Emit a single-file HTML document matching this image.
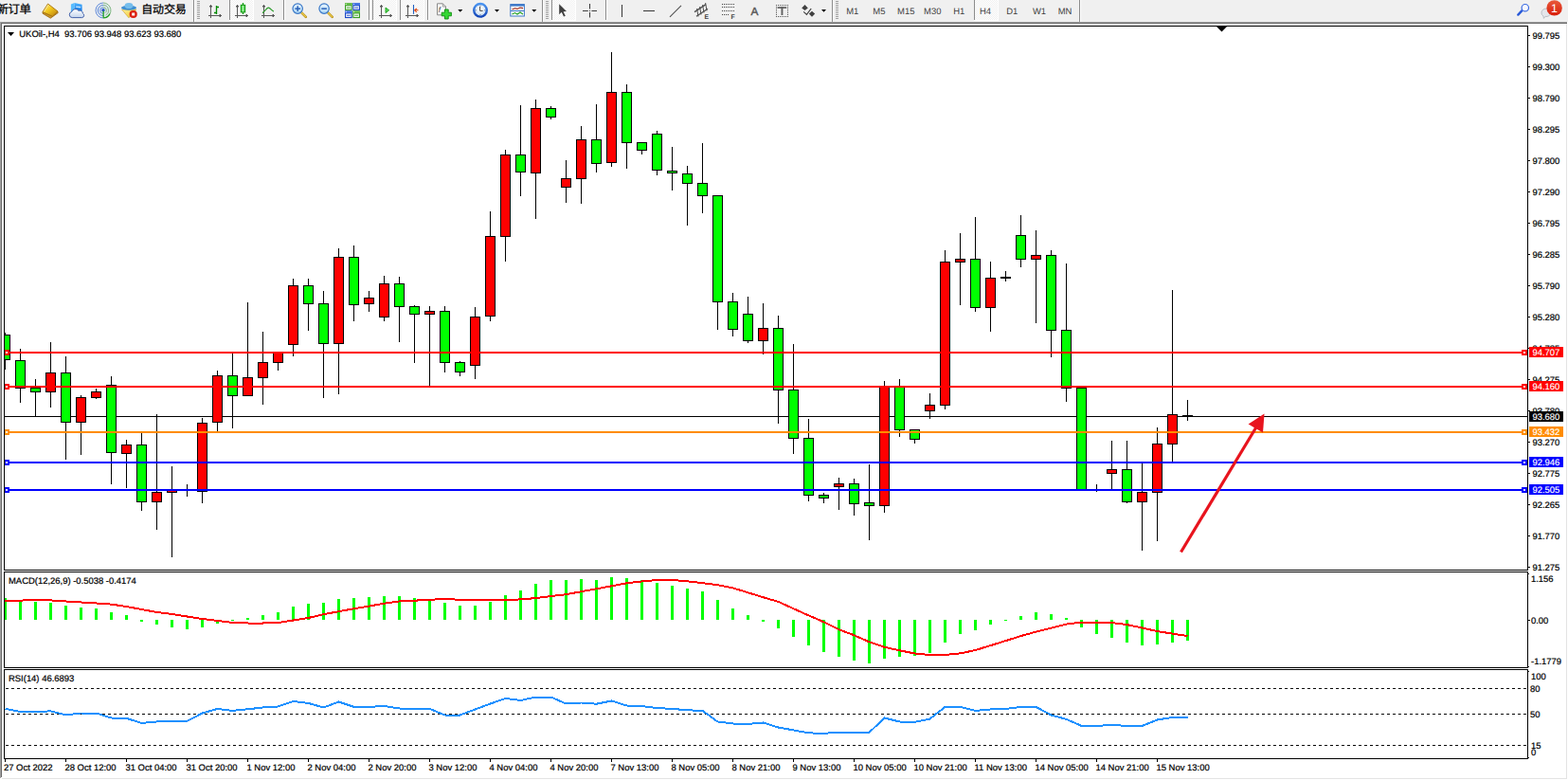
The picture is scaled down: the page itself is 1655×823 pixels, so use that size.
<!DOCTYPE html>
<html><head><meta charset="utf-8"><title>UKOil H4</title>
<style>
html,body{margin:0;padding:0;background:#fff;overflow:hidden}
body{width:1655px;height:823px;font-family:"Liberation Sans",sans-serif}
svg{display:block;position:absolute;left:0;top:0}
svg text{font-family:"Liberation Sans",sans-serif;white-space:pre}
</style></head><body>
<svg width="1655" height="823" viewBox="0 0 1655 823" shape-rendering="crispEdges" text-rendering="geometricPrecision">
<defs>
<clipPath id="cm"><rect x="5" y="28" width="1607" height="573"/></clipPath>
<clipPath id="c2"><rect x="5" y="604" width="1607" height="100"/></clipPath>
<clipPath id="c3"><rect x="5" y="707" width="1607" height="93"/></clipPath>
<linearGradient id="gold" x1="0" y1="0" x2="1" y2="1"><stop offset="0" stop-color="#fff0a0"/><stop offset=".45" stop-color="#f2c81e"/><stop offset="1" stop-color="#b87c0c"/></linearGradient>
<linearGradient id="blu" x1="0" y1="0" x2="0" y2="1"><stop offset="0" stop-color="#4fb4ff"/><stop offset="1" stop-color="#0a6ee0"/></linearGradient>
<linearGradient id="lens" x1="0" y1="0" x2="0" y2="1"><stop offset="0" stop-color="#eaf6ff"/><stop offset="1" stop-color="#a8d4f4"/></linearGradient>
<linearGradient id="grn" x1="0" y1="0" x2="1" y2="0"><stop offset="0" stop-color="#30d030"/><stop offset=".5" stop-color="#a0f0a0"/><stop offset="1" stop-color="#20c020"/></linearGradient>
<linearGradient id="redb" x1="0" y1="0" x2="0" y2="1"><stop offset="0" stop-color="#e85a3c"/><stop offset="1" stop-color="#d81e0a"/></linearGradient>
<linearGradient id="cld" x1="0" y1="0" x2="0" y2="1"><stop offset="0" stop-color="#ffffff"/><stop offset="1" stop-color="#c4d4ec"/></linearGradient>
<linearGradient id="face" x1="0" y1="0" x2="1" y2="1"><stop offset="0" stop-color="#fff2a0"/><stop offset="1" stop-color="#f0c020"/></linearGradient>
<linearGradient id="ring" x1="0" y1="0" x2="0" y2="1"><stop offset="0" stop-color="#4a94f0"/><stop offset="1" stop-color="#1446b8"/></linearGradient>
<pattern id="chk" width="2" height="2" patternUnits="userSpaceOnUse"><rect width="2" height="2" fill="#f0f0f0"/><rect width="1" height="1" fill="#fff"/><rect x="1" y="1" width="1" height="1" fill="#fff"/></pattern>
<radialGradient id="clk" cx=".5" cy=".4" r=".6"><stop offset="0" stop-color="#ffffff"/><stop offset="1" stop-color="#c8dcf0"/></radialGradient>
</defs>
<rect x="0" y="0" width="1655" height="823" fill="#fff"/>
<rect x="0" y="0" width="1655" height="23" fill="#f0f0f0"/>
<rect x="0" y="23" width="1654" height="1" fill="#a0a0a0"/>
<rect x="1" y="24" width="1653" height="1" fill="#696969"/>
<rect x="0" y="23" width="1" height="798" fill="#a0a0a0"/>
<rect x="1" y="24" width="1" height="796" fill="#696969"/>
<rect x="1653" y="25" width="1" height="797" fill="#e3e3e3"/>
<rect x="2" y="821" width="1652" height="1" fill="#e3e3e3"/>
<rect x="4" y="27" width="1609" height="1" fill="#000"/>
<rect x="4" y="601" width="1609" height="1" fill="#000"/>
<rect x="4" y="27" width="1" height="575" fill="#000"/>
<rect x="1612" y="27" width="1" height="575" fill="#000"/>
<rect x="4" y="603" width="1609" height="1" fill="#000"/>
<rect x="4" y="704" width="1609" height="1" fill="#000"/>
<rect x="4" y="603" width="1" height="102" fill="#000"/>
<rect x="1612" y="603" width="1" height="102" fill="#000"/>
<rect x="4" y="706" width="1609" height="1" fill="#000"/>
<rect x="4" y="800" width="1609" height="1" fill="#000"/>
<rect x="4" y="706" width="1" height="95" fill="#000"/>
<rect x="1612" y="706" width="1" height="95" fill="#000"/>
<g clip-path="url(#cm)">
<rect x="5" y="439" width="1607" height="1" fill="#000"/>
<rect x="5" y="351" width="1" height="39" fill="#000"/>
<rect x="0" y="353" width="11" height="27" fill="#000"/>
<rect x="1" y="354" width="9" height="25" fill="#00ff00"/>
<rect x="21" y="368" width="1" height="57" fill="#000"/>
<rect x="16" y="380" width="11" height="30" fill="#000"/>
<rect x="17" y="381" width="9" height="28" fill="#00ff00"/>
<rect x="37" y="400" width="1" height="39" fill="#000"/>
<rect x="32" y="409" width="11" height="5" fill="#000"/>
<rect x="33" y="410" width="9" height="3" fill="#00ff00"/>
<rect x="53" y="361" width="1" height="69" fill="#000"/>
<rect x="48" y="393" width="11" height="21" fill="#000"/>
<rect x="49" y="394" width="9" height="19" fill="#ff0000"/>
<rect x="69" y="376" width="1" height="109" fill="#000"/>
<rect x="64" y="393" width="11" height="53" fill="#000"/>
<rect x="65" y="394" width="9" height="51" fill="#00ff00"/>
<rect x="85" y="417" width="1" height="63" fill="#000"/>
<rect x="80" y="419" width="11" height="27" fill="#000"/>
<rect x="81" y="420" width="9" height="25" fill="#ff0000"/>
<rect x="101" y="410" width="1" height="11" fill="#000"/>
<rect x="96" y="413" width="11" height="7" fill="#000"/>
<rect x="97" y="414" width="9" height="5" fill="#ff0000"/>
<rect x="117" y="397" width="1" height="114" fill="#000"/>
<rect x="112" y="406" width="11" height="72" fill="#000"/>
<rect x="113" y="407" width="9" height="70" fill="#00ff00"/>
<rect x="133" y="464" width="1" height="51" fill="#000"/>
<rect x="128" y="469" width="11" height="10" fill="#000"/>
<rect x="129" y="470" width="9" height="8" fill="#ff0000"/>
<rect x="149" y="457" width="1" height="82" fill="#000"/>
<rect x="144" y="469" width="11" height="61" fill="#000"/>
<rect x="145" y="470" width="9" height="59" fill="#00ff00"/>
<rect x="165" y="437" width="1" height="122" fill="#000"/>
<rect x="160" y="519" width="11" height="11" fill="#000"/>
<rect x="161" y="520" width="9" height="9" fill="#ff0000"/>
<rect x="181" y="492" width="1" height="96" fill="#000"/>
<rect x="176" y="517" width="11" height="3" fill="#000"/>
<rect x="177" y="518" width="9" height="1" fill="#ff0000"/>
<rect x="197" y="511" width="1" height="13" fill="#000"/>
<rect x="192" y="516" width="11" height="2" fill="#000"/>
<rect x="213" y="441" width="1" height="90" fill="#000"/>
<rect x="208" y="446" width="11" height="73" fill="#000"/>
<rect x="209" y="447" width="9" height="71" fill="#ff0000"/>
<rect x="229" y="391" width="1" height="65" fill="#000"/>
<rect x="224" y="396" width="11" height="50" fill="#000"/>
<rect x="225" y="397" width="9" height="48" fill="#ff0000"/>
<rect x="245" y="373" width="1" height="79" fill="#000"/>
<rect x="240" y="396" width="11" height="22" fill="#000"/>
<rect x="241" y="397" width="9" height="20" fill="#00ff00"/>
<rect x="261" y="319" width="1" height="99" fill="#000"/>
<rect x="256" y="398" width="11" height="20" fill="#000"/>
<rect x="257" y="399" width="9" height="18" fill="#ff0000"/>
<rect x="277" y="350" width="1" height="77" fill="#000"/>
<rect x="272" y="382" width="11" height="17" fill="#000"/>
<rect x="273" y="383" width="9" height="15" fill="#ff0000"/>
<rect x="293" y="372" width="1" height="19" fill="#000"/>
<rect x="288" y="372" width="11" height="11" fill="#000"/>
<rect x="289" y="373" width="9" height="9" fill="#ff0000"/>
<rect x="309" y="294" width="1" height="82" fill="#000"/>
<rect x="304" y="301" width="11" height="63" fill="#000"/>
<rect x="305" y="302" width="9" height="61" fill="#ff0000"/>
<rect x="325" y="294" width="1" height="55" fill="#000"/>
<rect x="320" y="301" width="11" height="20" fill="#000"/>
<rect x="321" y="302" width="9" height="18" fill="#00ff00"/>
<rect x="341" y="307" width="1" height="113" fill="#000"/>
<rect x="336" y="320" width="11" height="43" fill="#000"/>
<rect x="337" y="321" width="9" height="41" fill="#00ff00"/>
<rect x="357" y="262" width="1" height="154" fill="#000"/>
<rect x="352" y="271" width="11" height="92" fill="#000"/>
<rect x="353" y="272" width="9" height="90" fill="#ff0000"/>
<rect x="373" y="259" width="1" height="80" fill="#000"/>
<rect x="368" y="271" width="11" height="51" fill="#000"/>
<rect x="369" y="272" width="9" height="49" fill="#00ff00"/>
<rect x="389" y="307" width="1" height="22" fill="#000"/>
<rect x="384" y="314" width="11" height="7" fill="#000"/>
<rect x="385" y="315" width="9" height="5" fill="#ff0000"/>
<rect x="405" y="291" width="1" height="48" fill="#000"/>
<rect x="400" y="299" width="11" height="36" fill="#000"/>
<rect x="401" y="300" width="9" height="34" fill="#ff0000"/>
<rect x="421" y="292" width="1" height="69" fill="#000"/>
<rect x="416" y="299" width="11" height="25" fill="#000"/>
<rect x="417" y="300" width="9" height="23" fill="#00ff00"/>
<rect x="437" y="322" width="1" height="61" fill="#000"/>
<rect x="432" y="323" width="11" height="9" fill="#000"/>
<rect x="433" y="324" width="9" height="7" fill="#00ff00"/>
<rect x="453" y="323" width="1" height="86" fill="#000"/>
<rect x="448" y="328" width="11" height="4" fill="#000"/>
<rect x="449" y="329" width="9" height="2" fill="#ff0000"/>
<rect x="469" y="323" width="1" height="70" fill="#000"/>
<rect x="464" y="328" width="11" height="55" fill="#000"/>
<rect x="465" y="329" width="9" height="53" fill="#00ff00"/>
<rect x="485" y="381" width="1" height="16" fill="#000"/>
<rect x="480" y="382" width="11" height="11" fill="#000"/>
<rect x="481" y="383" width="9" height="9" fill="#00ff00"/>
<rect x="501" y="324" width="1" height="76" fill="#000"/>
<rect x="496" y="334" width="11" height="52" fill="#000"/>
<rect x="497" y="335" width="9" height="50" fill="#ff0000"/>
<rect x="517" y="223" width="1" height="116" fill="#000"/>
<rect x="512" y="249" width="11" height="85" fill="#000"/>
<rect x="513" y="250" width="9" height="83" fill="#ff0000"/>
<rect x="533" y="158" width="1" height="118" fill="#000"/>
<rect x="528" y="163" width="11" height="87" fill="#000"/>
<rect x="529" y="164" width="9" height="85" fill="#ff0000"/>
<rect x="549" y="111" width="1" height="96" fill="#000"/>
<rect x="544" y="163" width="11" height="19" fill="#000"/>
<rect x="545" y="164" width="9" height="17" fill="#00ff00"/>
<rect x="565" y="105" width="1" height="126" fill="#000"/>
<rect x="560" y="114" width="11" height="69" fill="#000"/>
<rect x="561" y="115" width="9" height="67" fill="#ff0000"/>
<rect x="581" y="112" width="1" height="14" fill="#000"/>
<rect x="576" y="114" width="11" height="10" fill="#000"/>
<rect x="577" y="115" width="9" height="8" fill="#00ff00"/>
<rect x="597" y="169" width="1" height="45" fill="#000"/>
<rect x="592" y="188" width="11" height="10" fill="#000"/>
<rect x="593" y="189" width="9" height="8" fill="#ff0000"/>
<rect x="613" y="133" width="1" height="82" fill="#000"/>
<rect x="608" y="147" width="11" height="42" fill="#000"/>
<rect x="609" y="148" width="9" height="40" fill="#ff0000"/>
<rect x="629" y="110" width="1" height="72" fill="#000"/>
<rect x="624" y="147" width="11" height="26" fill="#000"/>
<rect x="625" y="148" width="9" height="24" fill="#00ff00"/>
<rect x="645" y="55" width="1" height="121" fill="#000"/>
<rect x="640" y="97" width="11" height="75" fill="#000"/>
<rect x="641" y="98" width="9" height="73" fill="#ff0000"/>
<rect x="661" y="89" width="1" height="89" fill="#000"/>
<rect x="656" y="97" width="11" height="54" fill="#000"/>
<rect x="657" y="98" width="9" height="52" fill="#00ff00"/>
<rect x="677" y="150" width="1" height="13" fill="#000"/>
<rect x="672" y="150" width="11" height="9" fill="#000"/>
<rect x="673" y="151" width="9" height="7" fill="#00ff00"/>
<rect x="693" y="138" width="1" height="47" fill="#000"/>
<rect x="688" y="141" width="11" height="39" fill="#000"/>
<rect x="689" y="142" width="9" height="37" fill="#00ff00"/>
<rect x="709" y="155" width="1" height="46" fill="#000"/>
<rect x="704" y="180" width="11" height="3" fill="#000"/>
<rect x="705" y="181" width="9" height="1" fill="#00ff00"/>
<rect x="725" y="175" width="1" height="63" fill="#000"/>
<rect x="720" y="183" width="11" height="11" fill="#000"/>
<rect x="721" y="184" width="9" height="9" fill="#00ff00"/>
<rect x="741" y="151" width="1" height="74" fill="#000"/>
<rect x="736" y="193" width="11" height="14" fill="#000"/>
<rect x="737" y="194" width="9" height="12" fill="#00ff00"/>
<rect x="757" y="206" width="1" height="142" fill="#000"/>
<rect x="752" y="206" width="11" height="113" fill="#000"/>
<rect x="753" y="207" width="9" height="111" fill="#00ff00"/>
<rect x="773" y="309" width="1" height="46" fill="#000"/>
<rect x="768" y="318" width="11" height="30" fill="#000"/>
<rect x="769" y="319" width="9" height="28" fill="#00ff00"/>
<rect x="789" y="313" width="1" height="49" fill="#000"/>
<rect x="784" y="331" width="11" height="29" fill="#000"/>
<rect x="785" y="332" width="9" height="27" fill="#00ff00"/>
<rect x="805" y="320" width="1" height="54" fill="#000"/>
<rect x="800" y="346" width="11" height="14" fill="#000"/>
<rect x="801" y="347" width="9" height="12" fill="#ff0000"/>
<rect x="821" y="333" width="1" height="114" fill="#000"/>
<rect x="816" y="346" width="11" height="66" fill="#000"/>
<rect x="817" y="347" width="9" height="64" fill="#00ff00"/>
<rect x="837" y="363" width="1" height="116" fill="#000"/>
<rect x="832" y="411" width="11" height="52" fill="#000"/>
<rect x="833" y="412" width="9" height="50" fill="#00ff00"/>
<rect x="853" y="442" width="1" height="87" fill="#000"/>
<rect x="848" y="462" width="11" height="61" fill="#000"/>
<rect x="849" y="463" width="9" height="59" fill="#00ff00"/>
<rect x="869" y="520" width="1" height="11" fill="#000"/>
<rect x="864" y="522" width="11" height="4" fill="#000"/>
<rect x="865" y="523" width="9" height="2" fill="#00ff00"/>
<rect x="885" y="504" width="1" height="34" fill="#000"/>
<rect x="880" y="510" width="11" height="4" fill="#000"/>
<rect x="881" y="511" width="9" height="2" fill="#ff0000"/>
<rect x="901" y="505" width="1" height="39" fill="#000"/>
<rect x="896" y="510" width="11" height="22" fill="#000"/>
<rect x="897" y="511" width="9" height="20" fill="#00ff00"/>
<rect x="917" y="490" width="1" height="80" fill="#000"/>
<rect x="912" y="530" width="11" height="4" fill="#000"/>
<rect x="913" y="531" width="9" height="2" fill="#00ff00"/>
<rect x="933" y="402" width="1" height="139" fill="#000"/>
<rect x="928" y="408" width="11" height="126" fill="#000"/>
<rect x="929" y="409" width="9" height="124" fill="#ff0000"/>
<rect x="949" y="400" width="1" height="61" fill="#000"/>
<rect x="944" y="408" width="11" height="46" fill="#000"/>
<rect x="945" y="409" width="9" height="44" fill="#00ff00"/>
<rect x="965" y="453" width="1" height="15" fill="#000"/>
<rect x="960" y="453" width="11" height="11" fill="#000"/>
<rect x="961" y="454" width="9" height="9" fill="#00ff00"/>
<rect x="981" y="415" width="1" height="27" fill="#000"/>
<rect x="976" y="427" width="11" height="7" fill="#000"/>
<rect x="977" y="428" width="9" height="5" fill="#ff0000"/>
<rect x="997" y="264" width="1" height="168" fill="#000"/>
<rect x="992" y="276" width="11" height="152" fill="#000"/>
<rect x="993" y="277" width="9" height="150" fill="#ff0000"/>
<rect x="1013" y="246" width="1" height="76" fill="#000"/>
<rect x="1008" y="273" width="11" height="4" fill="#000"/>
<rect x="1009" y="274" width="9" height="2" fill="#ff0000"/>
<rect x="1029" y="229" width="1" height="100" fill="#000"/>
<rect x="1024" y="273" width="11" height="52" fill="#000"/>
<rect x="1025" y="274" width="9" height="50" fill="#00ff00"/>
<rect x="1045" y="276" width="1" height="74" fill="#000"/>
<rect x="1040" y="293" width="11" height="32" fill="#000"/>
<rect x="1041" y="294" width="9" height="30" fill="#ff0000"/>
<rect x="1061" y="286" width="1" height="11" fill="#000"/>
<rect x="1056" y="292" width="11" height="2" fill="#000"/>
<rect x="1077" y="227" width="1" height="55" fill="#000"/>
<rect x="1072" y="248" width="11" height="26" fill="#000"/>
<rect x="1073" y="249" width="9" height="24" fill="#00ff00"/>
<rect x="1093" y="243" width="1" height="98" fill="#000"/>
<rect x="1088" y="269" width="11" height="5" fill="#000"/>
<rect x="1089" y="270" width="9" height="3" fill="#ff0000"/>
<rect x="1109" y="264" width="1" height="113" fill="#000"/>
<rect x="1104" y="269" width="11" height="80" fill="#000"/>
<rect x="1105" y="270" width="9" height="78" fill="#00ff00"/>
<rect x="1125" y="278" width="1" height="146" fill="#000"/>
<rect x="1120" y="348" width="11" height="62" fill="#000"/>
<rect x="1121" y="349" width="9" height="60" fill="#00ff00"/>
<rect x="1141" y="409" width="1" height="109" fill="#000"/>
<rect x="1136" y="409" width="11" height="109" fill="#000"/>
<rect x="1137" y="410" width="9" height="107" fill="#00ff00"/>
<rect x="1157" y="511" width="1" height="8" fill="#000"/>
<rect x="1152" y="516" width="11" height="2" fill="#000"/>
<rect x="1173" y="465" width="1" height="52" fill="#000"/>
<rect x="1168" y="495" width="11" height="5" fill="#000"/>
<rect x="1169" y="496" width="9" height="3" fill="#ff0000"/>
<rect x="1189" y="465" width="1" height="66" fill="#000"/>
<rect x="1184" y="495" width="11" height="35" fill="#000"/>
<rect x="1185" y="496" width="9" height="33" fill="#00ff00"/>
<rect x="1205" y="489" width="1" height="92" fill="#000"/>
<rect x="1200" y="519" width="11" height="11" fill="#000"/>
<rect x="1201" y="520" width="9" height="9" fill="#ff0000"/>
<rect x="1221" y="451" width="1" height="120" fill="#000"/>
<rect x="1216" y="468" width="11" height="52" fill="#000"/>
<rect x="1217" y="469" width="9" height="50" fill="#ff0000"/>
<rect x="1237" y="306" width="1" height="181" fill="#000"/>
<rect x="1232" y="437" width="11" height="32" fill="#000"/>
<rect x="1233" y="438" width="9" height="30" fill="#ff0000"/>
<rect x="1253" y="422" width="1" height="22" fill="#000"/>
<rect x="1248" y="438" width="11" height="2" fill="#000"/>
</g>
<rect x="1613" y="37" width="2" height="1" fill="#000"/>
<text x="1617.5" y="41" fill="#000" font-size="9.45" stroke="#000" stroke-width="0.22" text-anchor="start" xml:space="preserve">99.795</text>
<rect x="1613" y="70" width="2" height="1" fill="#000"/>
<text x="1617.5" y="74" fill="#000" font-size="9.45" stroke="#000" stroke-width="0.22" text-anchor="start" xml:space="preserve">99.300</text>
<rect x="1613" y="103" width="2" height="1" fill="#000"/>
<text x="1617.5" y="107" fill="#000" font-size="9.45" stroke="#000" stroke-width="0.22" text-anchor="start" xml:space="preserve">98.790</text>
<rect x="1613" y="136" width="2" height="1" fill="#000"/>
<text x="1617.5" y="140" fill="#000" font-size="9.45" stroke="#000" stroke-width="0.22" text-anchor="start" xml:space="preserve">98.295</text>
<rect x="1613" y="169" width="2" height="1" fill="#000"/>
<text x="1617.5" y="173" fill="#000" font-size="9.45" stroke="#000" stroke-width="0.22" text-anchor="start" xml:space="preserve">97.800</text>
<rect x="1613" y="202" width="2" height="1" fill="#000"/>
<text x="1617.5" y="206" fill="#000" font-size="9.45" stroke="#000" stroke-width="0.22" text-anchor="start" xml:space="preserve">97.290</text>
<rect x="1613" y="235" width="2" height="1" fill="#000"/>
<text x="1617.5" y="239" fill="#000" font-size="9.45" stroke="#000" stroke-width="0.22" text-anchor="start" xml:space="preserve">96.795</text>
<rect x="1613" y="268" width="2" height="1" fill="#000"/>
<text x="1617.5" y="272" fill="#000" font-size="9.45" stroke="#000" stroke-width="0.22" text-anchor="start" xml:space="preserve">96.285</text>
<rect x="1613" y="301" width="2" height="1" fill="#000"/>
<text x="1617.5" y="305" fill="#000" font-size="9.45" stroke="#000" stroke-width="0.22" text-anchor="start" xml:space="preserve">95.790</text>
<rect x="1613" y="334" width="2" height="1" fill="#000"/>
<text x="1617.5" y="338" fill="#000" font-size="9.45" stroke="#000" stroke-width="0.22" text-anchor="start" xml:space="preserve">95.280</text>
<rect x="1613" y="367" width="2" height="1" fill="#000"/>
<text x="1617.5" y="371" fill="#000" font-size="9.45" stroke="#000" stroke-width="0.22" text-anchor="start" xml:space="preserve">94.785</text>
<rect x="1613" y="400" width="2" height="1" fill="#000"/>
<text x="1617.5" y="404" fill="#000" font-size="9.45" stroke="#000" stroke-width="0.22" text-anchor="start" xml:space="preserve">94.275</text>
<rect x="1613" y="433" width="2" height="1" fill="#000"/>
<text x="1617.5" y="437" fill="#000" font-size="9.45" stroke="#000" stroke-width="0.22" text-anchor="start" xml:space="preserve">93.780</text>
<rect x="1613" y="466" width="2" height="1" fill="#000"/>
<text x="1617.5" y="470" fill="#000" font-size="9.45" stroke="#000" stroke-width="0.22" text-anchor="start" xml:space="preserve">93.270</text>
<rect x="1613" y="499" width="2" height="1" fill="#000"/>
<text x="1617.5" y="503" fill="#000" font-size="9.45" stroke="#000" stroke-width="0.22" text-anchor="start" xml:space="preserve">92.775</text>
<rect x="1613" y="532" width="2" height="1" fill="#000"/>
<text x="1617.5" y="536" fill="#000" font-size="9.45" stroke="#000" stroke-width="0.22" text-anchor="start" xml:space="preserve">92.265</text>
<rect x="1613" y="565" width="2" height="1" fill="#000"/>
<text x="1617.5" y="569" fill="#000" font-size="9.45" stroke="#000" stroke-width="0.22" text-anchor="start" xml:space="preserve">91.770</text>
<rect x="1613" y="598" width="2" height="1" fill="#000"/>
<text x="1617.5" y="602" fill="#000" font-size="9.45" stroke="#000" stroke-width="0.22" text-anchor="start" xml:space="preserve">91.275</text>
<rect x="5" y="371" width="1607" height="2" fill="#ff0000"/>
<rect x="5" y="369" width="5" height="6" fill="#ff0000"/>
<rect x="6" y="371" width="2" height="2" fill="#fff"/>
<rect x="1606" y="369" width="6" height="6" fill="#ff0000"/>
<rect x="1608" y="371" width="2" height="2" fill="#fff"/>
<rect x="1614" y="366" width="36" height="11" fill="#ff0000"/>
<text x="1617.5" y="375" fill="#fff" font-size="9.45" stroke="#fff" stroke-width="0.15" text-anchor="start" xml:space="preserve">94.707</text>
<rect x="5" y="407" width="1607" height="2" fill="#ff0000"/>
<rect x="5" y="405" width="5" height="6" fill="#ff0000"/>
<rect x="6" y="407" width="2" height="2" fill="#fff"/>
<rect x="1606" y="405" width="6" height="6" fill="#ff0000"/>
<rect x="1608" y="407" width="2" height="2" fill="#fff"/>
<rect x="1614" y="402" width="36" height="11" fill="#ff0000"/>
<text x="1617.5" y="411" fill="#fff" font-size="9.45" stroke="#fff" stroke-width="0.15" text-anchor="start" xml:space="preserve">94.160</text>
<rect x="5" y="455" width="1607" height="2" fill="#ff8c00"/>
<rect x="5" y="453" width="5" height="6" fill="#ff8c00"/>
<rect x="6" y="455" width="2" height="2" fill="#fff"/>
<rect x="1606" y="453" width="6" height="6" fill="#ff8c00"/>
<rect x="1608" y="455" width="2" height="2" fill="#fff"/>
<rect x="1614" y="450" width="36" height="11" fill="#ff8c00"/>
<text x="1617.5" y="459" fill="#fff" font-size="9.45" stroke="#fff" stroke-width="0.15" text-anchor="start" xml:space="preserve">93.432</text>
<rect x="5" y="487" width="1607" height="2" fill="#0000ff"/>
<rect x="5" y="485" width="5" height="6" fill="#0000ff"/>
<rect x="6" y="487" width="2" height="2" fill="#fff"/>
<rect x="1606" y="485" width="6" height="6" fill="#0000ff"/>
<rect x="1608" y="487" width="2" height="2" fill="#fff"/>
<rect x="1614" y="482" width="36" height="11" fill="#0000ff"/>
<text x="1617.5" y="491" fill="#fff" font-size="9.45" stroke="#fff" stroke-width="0.15" text-anchor="start" xml:space="preserve">92.946</text>
<rect x="5" y="516" width="1607" height="2" fill="#0000ff"/>
<rect x="5" y="514" width="5" height="6" fill="#0000ff"/>
<rect x="6" y="516" width="2" height="2" fill="#fff"/>
<rect x="1606" y="514" width="6" height="6" fill="#0000ff"/>
<rect x="1608" y="516" width="2" height="2" fill="#fff"/>
<rect x="1614" y="511" width="36" height="11" fill="#0000ff"/>
<text x="1617.5" y="520" fill="#fff" font-size="9.45" stroke="#fff" stroke-width="0.15" text-anchor="start" xml:space="preserve">92.505</text>
<rect x="1614" y="434" width="36" height="11" fill="#000"/>
<text x="1617.5" y="443" fill="#fff" font-size="9.45" stroke="#fff" stroke-width="0.15" text-anchor="start" xml:space="preserve">93.680</text>
<g shape-rendering="geometricPrecision"><line x1="1246.5" y1="582.5" x2="1327" y2="449" stroke="#e8141e" stroke-width="3.2"/><polygon points="1334.5,436.5 1317.6,447.4 1333,456.6" fill="#e8141e"/></g>
<polygon points="8,34 15,34 11.5,38" fill="#000" shape-rendering="geometricPrecision"/>
<text x="20.3" y="39" fill="#000" font-size="9.45" stroke="#000" stroke-width="0.22" text-anchor="start" xml:space="preserve">UKOil-,H4  93.706 93.948 93.623 93.680</text>
<polygon points="1284,28 1295,28 1289.5,33.5" fill="#000" shape-rendering="geometricPrecision"/>
<g clip-path="url(#c2)">
<rect x="4" y="631" width="3" height="23" fill="#00ff00"/>
<rect x="20" y="634" width="3" height="20" fill="#00ff00"/>
<rect x="36" y="635" width="3" height="19" fill="#00ff00"/>
<rect x="52" y="636" width="3" height="18" fill="#00ff00"/>
<rect x="68" y="639" width="3" height="15" fill="#00ff00"/>
<rect x="84" y="641" width="3" height="13" fill="#00ff00"/>
<rect x="100" y="642" width="3" height="12" fill="#00ff00"/>
<rect x="116" y="646" width="3" height="8" fill="#00ff00"/>
<rect x="132" y="649" width="3" height="5" fill="#00ff00"/>
<rect x="148" y="654" width="3" height="2" fill="#00ff00"/>
<rect x="164" y="654" width="3" height="5" fill="#00ff00"/>
<rect x="180" y="654" width="3" height="8" fill="#00ff00"/>
<rect x="196" y="654" width="3" height="10" fill="#00ff00"/>
<rect x="212" y="654" width="3" height="8" fill="#00ff00"/>
<rect x="228" y="654" width="3" height="4" fill="#00ff00"/>
<rect x="244" y="654" width="3" height="1" fill="#00ff00"/>
<rect x="260" y="652" width="3" height="2" fill="#00ff00"/>
<rect x="276" y="649" width="3" height="5" fill="#00ff00"/>
<rect x="292" y="646" width="3" height="8" fill="#00ff00"/>
<rect x="308" y="640" width="3" height="14" fill="#00ff00"/>
<rect x="324" y="637" width="3" height="17" fill="#00ff00"/>
<rect x="340" y="636" width="3" height="18" fill="#00ff00"/>
<rect x="356" y="632" width="3" height="22" fill="#00ff00"/>
<rect x="372" y="631" width="3" height="23" fill="#00ff00"/>
<rect x="388" y="630" width="3" height="24" fill="#00ff00"/>
<rect x="404" y="629" width="3" height="25" fill="#00ff00"/>
<rect x="420" y="629" width="3" height="25" fill="#00ff00"/>
<rect x="436" y="631" width="3" height="23" fill="#00ff00"/>
<rect x="452" y="633" width="3" height="21" fill="#00ff00"/>
<rect x="468" y="636" width="3" height="18" fill="#00ff00"/>
<rect x="484" y="639" width="3" height="15" fill="#00ff00"/>
<rect x="500" y="639" width="3" height="15" fill="#00ff00"/>
<rect x="516" y="635" width="3" height="19" fill="#00ff00"/>
<rect x="532" y="628" width="3" height="26" fill="#00ff00"/>
<rect x="548" y="623" width="3" height="31" fill="#00ff00"/>
<rect x="564" y="616" width="3" height="38" fill="#00ff00"/>
<rect x="580" y="612" width="3" height="42" fill="#00ff00"/>
<rect x="596" y="612" width="3" height="42" fill="#00ff00"/>
<rect x="612" y="611" width="3" height="43" fill="#00ff00"/>
<rect x="628" y="612" width="3" height="42" fill="#00ff00"/>
<rect x="644" y="609" width="3" height="45" fill="#00ff00"/>
<rect x="660" y="610" width="3" height="44" fill="#00ff00"/>
<rect x="676" y="612" width="3" height="42" fill="#00ff00"/>
<rect x="692" y="615" width="3" height="39" fill="#00ff00"/>
<rect x="708" y="618" width="3" height="36" fill="#00ff00"/>
<rect x="724" y="621" width="3" height="33" fill="#00ff00"/>
<rect x="740" y="624" width="3" height="30" fill="#00ff00"/>
<rect x="756" y="633" width="3" height="21" fill="#00ff00"/>
<rect x="772" y="642" width="3" height="12" fill="#00ff00"/>
<rect x="788" y="649" width="3" height="5" fill="#00ff00"/>
<rect x="804" y="654" width="3" height="2" fill="#00ff00"/>
<rect x="820" y="654" width="3" height="9" fill="#00ff00"/>
<rect x="836" y="654" width="3" height="18" fill="#00ff00"/>
<rect x="852" y="654" width="3" height="27" fill="#00ff00"/>
<rect x="868" y="654" width="3" height="34" fill="#00ff00"/>
<rect x="884" y="654" width="3" height="39" fill="#00ff00"/>
<rect x="900" y="654" width="3" height="43" fill="#00ff00"/>
<rect x="916" y="654" width="3" height="46" fill="#00ff00"/>
<rect x="932" y="654" width="3" height="41" fill="#00ff00"/>
<rect x="948" y="654" width="3" height="39" fill="#00ff00"/>
<rect x="964" y="654" width="3" height="38" fill="#00ff00"/>
<rect x="980" y="654" width="3" height="35" fill="#00ff00"/>
<rect x="996" y="654" width="3" height="24" fill="#00ff00"/>
<rect x="1012" y="654" width="3" height="15" fill="#00ff00"/>
<rect x="1028" y="654" width="3" height="11" fill="#00ff00"/>
<rect x="1044" y="654" width="3" height="5" fill="#00ff00"/>
<rect x="1060" y="654" width="3" height="1" fill="#00ff00"/>
<rect x="1076" y="650" width="3" height="4" fill="#00ff00"/>
<rect x="1092" y="646" width="3" height="8" fill="#00ff00"/>
<rect x="1108" y="648" width="3" height="6" fill="#00ff00"/>
<rect x="1124" y="652" width="3" height="2" fill="#00ff00"/>
<rect x="1140" y="654" width="3" height="8" fill="#00ff00"/>
<rect x="1156" y="654" width="3" height="15" fill="#00ff00"/>
<rect x="1172" y="654" width="3" height="19" fill="#00ff00"/>
<rect x="1188" y="654" width="3" height="24" fill="#00ff00"/>
<rect x="1204" y="654" width="3" height="27" fill="#00ff00"/>
<rect x="1220" y="654" width="3" height="26" fill="#00ff00"/>
<rect x="1236" y="654" width="3" height="24" fill="#00ff00"/>
<rect x="1252" y="654" width="3" height="22" fill="#00ff00"/>
<polyline points="5.5,634 21.5,633.6 37.5,633 53.5,633.4 69.5,634.5 85.5,635.5 101.5,636.5 117.5,637.6 133.5,640 149.5,643 165.5,646 181.5,648 197.5,650.5 213.5,653 229.5,655 245.5,657 261.5,657.5 277.5,657.5 293.5,657 309.5,654.5 325.5,652 341.5,648.2 357.5,645.2 373.5,642.2 389.5,639.6 405.5,636.7 421.5,634.4 437.5,633.7 453.5,632.7 469.5,632.1 485.5,632.7 501.5,633.1 517.5,633.1 533.5,633.1 549.5,632.4 565.5,631.1 581.5,629.1 597.5,627.2 613.5,624.2 629.5,621.3 645.5,618.3 661.5,615.3 677.5,613.4 693.5,612.0 709.5,612.0 725.5,613.3 741.5,615.2 757.5,617.2 773.5,620.3 789.5,625.3 805.5,630.2 821.5,634.9 837.5,642.2 853.5,649.4 869.5,656.3 885.5,664.3 901.5,670.3 917.5,677.3 933.5,682.8 949.5,686.3 965.5,689.5 981.5,691 997.5,691 1013.5,689.4 1029.5,686 1045.5,681.1 1061.5,676.1 1077.5,671.1 1093.5,666.6 1109.5,662.6 1125.5,658.6 1141.5,656.5 1157.5,656.5 1173.5,657.1 1189.5,659.1 1205.5,662.5 1221.5,666.1 1237.5,668.6 1253.5,671.1" fill="none" stroke="#ff0000" stroke-width="2" stroke-linejoin="round" shape-rendering="crispEdges"/>
</g>
<text x="9" y="616" fill="#000" font-size="9.45" stroke="#000" stroke-width="0.22" text-anchor="start" xml:space="preserve">MACD(12,26,9) -0.5038 -0.4174</text>
<text x="1616" y="614" fill="#000" font-size="9.45" stroke="#000" stroke-width="0.22" text-anchor="start" xml:space="preserve">1.156</text>
<text x="1616" y="658" fill="#000" font-size="9.45" stroke="#000" stroke-width="0.22" text-anchor="start" xml:space="preserve">0.00</text>
<text x="1616" y="701" fill="#000" font-size="9.45" stroke="#000" stroke-width="0.22" text-anchor="start" xml:space="preserve">-1.1779</text>
<rect x="1613" y="654" width="2" height="1" fill="#000"/>
<rect x="1613" y="703" width="1" height="1" fill="#000"/>
<rect x="1613" y="708" width="1" height="1" fill="#000"/>
<rect x="1613" y="799" width="1" height="1" fill="#000"/>
<rect x="1613" y="605" width="1" height="1" fill="#000"/>
<line x1="6" y1="726.5" x2="1612" y2="726.5" stroke="#000" stroke-width="1" stroke-dasharray="3 3"/>
<line x1="6" y1="753.5" x2="1612" y2="753.5" stroke="#000" stroke-width="1" stroke-dasharray="3 3"/>
<line x1="6" y1="786.5" x2="1612" y2="786.5" stroke="#000" stroke-width="1" stroke-dasharray="3 3"/>
<g clip-path="url(#c3)"><polyline points="5.5,747.9 21.5,750.9 37.5,751.3 53.5,750.3 69.5,754.5 85.5,752.5 101.5,752.5 117.5,757.5 133.5,757.9 149.5,762.9 165.5,761.5 181.5,760.9 197.5,760.9 213.5,752.5 229.5,747.9 245.5,749.9 261.5,748.3 277.5,746.5 293.5,745.5 309.5,739.9 325.5,741.9 341.5,746.5 357.5,740.5 373.5,745.9 389.5,745.9 405.5,744.9 421.5,747.5 437.5,747.9 453.5,747.9 469.5,754.5 485.5,754.5 501.5,748.5 517.5,742.5 533.5,737 549.5,739 565.5,735.5 581.5,735.5 597.5,742.5 613.5,741.5 629.5,742.7 645.5,739.5 661.5,744.5 677.5,745.1 693.5,747.1 709.5,747.9 725.5,749.3 741.5,749.9 757.5,761.5 773.5,763.5 789.5,763.9 805.5,762.5 821.5,767.5 837.5,770.4 853.5,773.4 869.5,773.8 885.5,772.8 901.5,772.8 917.5,772.8 933.5,757.5 949.5,761.5 965.5,761.9 981.5,758.5 997.5,745.9 1013.5,745.9 1029.5,749.9 1045.5,748.5 1061.5,747.9 1077.5,745.9 1093.5,745.9 1109.5,754.5 1125.5,758.9 1141.5,765.9 1157.5,765.9 1173.5,764.9 1189.5,765.9 1205.5,765.9 1221.5,759.5 1237.5,756.9 1253.5,756.9" fill="none" stroke="#1e90ff" stroke-width="2" stroke-linejoin="round" shape-rendering="crispEdges"/></g>
<text x="9" y="719" fill="#000" font-size="9.45" stroke="#000" stroke-width="0.22" text-anchor="start" xml:space="preserve">RSI(14) 46.6893</text>
<text x="1616" y="717" fill="#000" font-size="9.45" stroke="#000" stroke-width="0.22" text-anchor="start" xml:space="preserve">100</text>
<text x="1615" y="730" fill="#000" font-size="9.45" stroke="#000" stroke-width="0.22" text-anchor="start" xml:space="preserve">80</text>
<text x="1615" y="757" fill="#000" font-size="9.45" stroke="#000" stroke-width="0.22" text-anchor="start" xml:space="preserve">50</text>
<text x="1616" y="790" fill="#000" font-size="9.45" stroke="#000" stroke-width="0.22" text-anchor="start" xml:space="preserve">15</text>
<text x="1616" y="797" fill="#000" font-size="9.45" stroke="#000" stroke-width="0.22" text-anchor="start" xml:space="preserve">0</text>
<rect x="5" y="801" width="1" height="3" fill="#000"/>
<text x="4" y="813" fill="#000" font-size="9.45" stroke="#000" stroke-width="0.22" text-anchor="start" xml:space="preserve">27 Oct 2022</text>
<rect x="69" y="801" width="1" height="3" fill="#000"/>
<text x="68.5" y="813" fill="#000" font-size="9.45" stroke="#000" stroke-width="0.22" text-anchor="start" xml:space="preserve">28 Oct 12:00</text>
<rect x="133" y="801" width="1" height="3" fill="#000"/>
<text x="132.5" y="813" fill="#000" font-size="9.45" stroke="#000" stroke-width="0.22" text-anchor="start" xml:space="preserve">31 Oct 04:00</text>
<rect x="197" y="801" width="1" height="3" fill="#000"/>
<text x="196.5" y="813" fill="#000" font-size="9.45" stroke="#000" stroke-width="0.22" text-anchor="start" xml:space="preserve">31 Oct 20:00</text>
<rect x="261" y="801" width="1" height="3" fill="#000"/>
<text x="260.5" y="813" fill="#000" font-size="9.45" stroke="#000" stroke-width="0.22" text-anchor="start" xml:space="preserve">1 Nov 12:00</text>
<rect x="325" y="801" width="1" height="3" fill="#000"/>
<text x="324.5" y="813" fill="#000" font-size="9.45" stroke="#000" stroke-width="0.22" text-anchor="start" xml:space="preserve">2 Nov 04:00</text>
<rect x="389" y="801" width="1" height="3" fill="#000"/>
<text x="388.5" y="813" fill="#000" font-size="9.45" stroke="#000" stroke-width="0.22" text-anchor="start" xml:space="preserve">2 Nov 20:00</text>
<rect x="453" y="801" width="1" height="3" fill="#000"/>
<text x="452.5" y="813" fill="#000" font-size="9.45" stroke="#000" stroke-width="0.22" text-anchor="start" xml:space="preserve">3 Nov 12:00</text>
<rect x="517" y="801" width="1" height="3" fill="#000"/>
<text x="516.5" y="813" fill="#000" font-size="9.45" stroke="#000" stroke-width="0.22" text-anchor="start" xml:space="preserve">4 Nov 04:00</text>
<rect x="581" y="801" width="1" height="3" fill="#000"/>
<text x="580.5" y="813" fill="#000" font-size="9.45" stroke="#000" stroke-width="0.22" text-anchor="start" xml:space="preserve">4 Nov 20:00</text>
<rect x="645" y="801" width="1" height="3" fill="#000"/>
<text x="644.5" y="813" fill="#000" font-size="9.45" stroke="#000" stroke-width="0.22" text-anchor="start" xml:space="preserve">7 Nov 13:00</text>
<rect x="709" y="801" width="1" height="3" fill="#000"/>
<text x="708.5" y="813" fill="#000" font-size="9.45" stroke="#000" stroke-width="0.22" text-anchor="start" xml:space="preserve">8 Nov 05:00</text>
<rect x="773" y="801" width="1" height="3" fill="#000"/>
<text x="772.5" y="813" fill="#000" font-size="9.45" stroke="#000" stroke-width="0.22" text-anchor="start" xml:space="preserve">8 Nov 21:00</text>
<rect x="837" y="801" width="1" height="3" fill="#000"/>
<text x="836.5" y="813" fill="#000" font-size="9.45" stroke="#000" stroke-width="0.22" text-anchor="start" xml:space="preserve">9 Nov 13:00</text>
<rect x="901" y="801" width="1" height="3" fill="#000"/>
<text x="900.5" y="813" fill="#000" font-size="9.45" stroke="#000" stroke-width="0.22" text-anchor="start" xml:space="preserve">10 Nov 05:00</text>
<rect x="965" y="801" width="1" height="3" fill="#000"/>
<text x="964.5" y="813" fill="#000" font-size="9.45" stroke="#000" stroke-width="0.22" text-anchor="start" xml:space="preserve">10 Nov 21:00</text>
<rect x="1029" y="801" width="1" height="3" fill="#000"/>
<text x="1028.5" y="813" fill="#000" font-size="9.45" stroke="#000" stroke-width="0.22" text-anchor="start" xml:space="preserve">11 Nov 13:00</text>
<rect x="1093" y="801" width="1" height="3" fill="#000"/>
<text x="1092.5" y="813" fill="#000" font-size="9.45" stroke="#000" stroke-width="0.22" text-anchor="start" xml:space="preserve">14 Nov 05:00</text>
<rect x="1157" y="801" width="1" height="3" fill="#000"/>
<text x="1156.5" y="813" fill="#000" font-size="9.45" stroke="#000" stroke-width="0.22" text-anchor="start" xml:space="preserve">14 Nov 21:00</text>
<rect x="1221" y="801" width="1" height="3" fill="#000"/>
<text x="1220.5" y="813" fill="#000" font-size="9.45" stroke="#000" stroke-width="0.22" text-anchor="start" xml:space="preserve">15 Nov 13:00</text>
<g shape-rendering="geometricPrecision">
<text x="-3.6" y="14.3" font-size="12.4" fill="#000" stroke="#000" stroke-width="0.25" letter-spacing="-0.3" text-anchor="start" style="font-family:'Liberation Sans','Noto Sans CJK SC',sans-serif">新订单</text>
<text x="149.3" y="14.2" font-size="12" fill="#000" stroke="#000" stroke-width="0.25" letter-spacing="-0.2" text-anchor="start" style="font-family:'Liberation Sans','Noto Sans CJK SC',sans-serif">自动交易</text>
<polygon points="45,12.6 55.4,17.4 61,12.2 61.2,13.6 53.3,19.2 45,14.2" fill="#c8962a" stroke="#9a6a10" stroke-width=".8" stroke-linejoin="round"/>
<polygon points="50.6,4 61,12 55.4,17.2 45,12.6" fill="url(#gold)" stroke="#a8720c" stroke-width=".9" stroke-linejoin="round"/>
<path d="M50.8,5.2 L46.4,12.4" stroke="#fff6c0" stroke-width=".8" fill="none" opacity=".8"/>
<polygon points="74.9,4.6 78.6,3 78.6,13.6 74.9,12.6" fill="#58bcff"/><polygon points="78.6,3 86.6,4.8 86.6,13.4 78.6,13.6" fill="url(#blu)"/><rect x="80.2" y="6.6" width="5" height="1.3" fill="#cfe8ff" transform="rotate(6 82 7)"/>
<path d="M76.2,18.6 a3.1,3.1 0 0 1 -0.6,-6.1 a4.2,4.2 0 0 1 7.4,-1.2 a3.2,3.2 0 0 1 4.4,2.8 a2.4,2.4 0 0 1 -0.8,4.5 z" fill="url(#cld)" stroke="#3454a0" stroke-width=".9"/>
<circle cx="109" cy="11" r="8" fill="#b8d4ee" opacity=".28"/>
<g fill="none" stroke-width=".9" opacity=".85"><path d="M109,3 a8,8 0 0 0 0,16" stroke="#3f6fd4"/><path d="M109,5.4 a5.6,5.6 0 0 0 0,11.2" stroke="#3f6fd4"/><path d="M109,7.7 a3.3,3.3 0 0 0 0,6.6" stroke="#3f6fd4"/><path d="M109,3 a8,8 0 0 1 3,15.4" stroke="#62a862"/><path d="M109,5.4 a5.6,5.6 0 0 1 2.4,10.6" stroke="#62a862"/><path d="M109,7.7 a3.3,3.3 0 0 1 1.6,6.2" stroke="#62a862"/></g>
<circle cx="109" cy="10.8" r="1.7" fill="#2450c8"/><rect x="108.5" y="11.6" width="1.3" height="7.2" fill="#1ea01e"/><path d="M109,18.8 A7.8,7.8 0 0 0 115.9,14.6" stroke="#1ea01e" stroke-width="1.2" fill="none"/>
<polygon points="128.6,10 143.8,10 136,18.8" fill="url(#face)" stroke="#c89a20" stroke-width=".6"/><ellipse cx="136" cy="8.2" rx="8" ry="2.5" fill="#3f8fd2"/><ellipse cx="136" cy="6" rx="4.4" ry="3.1" fill="#74bdec"/><circle cx="140.7" cy="15" r="4.1" fill="#dc1e0e"/><rect x="139.2" y="13.5" width="3" height="3" fill="#fff"/>
<rect x="204" y="0" width="1" height="23" fill="#8c8c8c" shape-rendering="crispEdges"/><rect x="205" y="0" width="1" height="23" fill="#fff" shape-rendering="crispEdges"/>
<rect x="208" y="1" width="3" height="1" fill="#a0a0a0" shape-rendering="crispEdges"/>
<rect x="208" y="3" width="3" height="1" fill="#a0a0a0" shape-rendering="crispEdges"/>
<rect x="208" y="5" width="3" height="1" fill="#a0a0a0" shape-rendering="crispEdges"/>
<rect x="208" y="7" width="3" height="1" fill="#a0a0a0" shape-rendering="crispEdges"/>
<rect x="208" y="9" width="3" height="1" fill="#a0a0a0" shape-rendering="crispEdges"/>
<rect x="208" y="11" width="3" height="1" fill="#a0a0a0" shape-rendering="crispEdges"/>
<rect x="208" y="13" width="3" height="1" fill="#a0a0a0" shape-rendering="crispEdges"/>
<rect x="208" y="15" width="3" height="1" fill="#a0a0a0" shape-rendering="crispEdges"/>
<rect x="208" y="17" width="3" height="1" fill="#a0a0a0" shape-rendering="crispEdges"/>
<rect x="208" y="19" width="3" height="1" fill="#a0a0a0" shape-rendering="crispEdges"/>
<g fill="#585858" shape-rendering="crispEdges"><rect x="222" y="5" width="1" height="14"/><rect x="220" y="16" width="14" height="1"/><rect x="221" y="6" width="3" height="1"/><rect x="232" y="15" width="1" height="3"/></g><g fill="#585858" opacity=".45" shape-rendering="crispEdges"><rect x="221" y="7" width="3" height="1"/><rect x="231" y="15" width="1" height="3"/></g>
<path d="M228.5,6 V15 M228.5,7.5 H231 M226,13.5 H228.5" stroke="#008a00" stroke-width="1.35" fill="none"/>
<rect x="243" y="0" width="24" height="21" fill="url(#chk)" shape-rendering="crispEdges"/>
<rect x="242" y="0" width="1" height="21" fill="#8c8c8c" shape-rendering="crispEdges"/>
<rect x="242" y="21" width="26" height="1" fill="#fff" shape-rendering="crispEdges"/><rect x="267" y="0" width="1" height="22" fill="#fff" shape-rendering="crispEdges"/>
<g fill="#585858" shape-rendering="crispEdges"><rect x="250" y="5" width="1" height="14"/><rect x="248" y="16" width="14" height="1"/><rect x="249" y="6" width="3" height="1"/><rect x="260" y="15" width="1" height="3"/></g><g fill="#585858" opacity=".45" shape-rendering="crispEdges"><rect x="249" y="7" width="3" height="1"/><rect x="259" y="15" width="1" height="3"/></g>
<line x1="256.5" y1="3" x2="256.5" y2="15" stroke="#0a960a" stroke-width="1.2"/><rect x="254.3" y="5.3" width="4.4" height="7.6" fill="url(#grn)" stroke="#0a960a" stroke-width="1"/>
<g fill="#585858" shape-rendering="crispEdges"><rect x="278" y="5" width="1" height="14"/><rect x="276" y="16" width="14" height="1"/><rect x="277" y="6" width="3" height="1"/><rect x="288" y="15" width="1" height="3"/></g><g fill="#585858" opacity=".45" shape-rendering="crispEdges"><rect x="277" y="7" width="3" height="1"/><rect x="287" y="15" width="1" height="3"/></g>
<path d="M277,13.6 C280,12 281.5,8 283.5,8.2 C285.5,8.4 286.5,11.5 289,12" stroke="#2a9a2a" stroke-width="1.2" fill="none"/>
<rect x="299" y="0" width="1" height="21" fill="#8c8c8c" shape-rendering="crispEdges"/><rect x="300" y="0" width="1" height="21" fill="#fff" shape-rendering="crispEdges"/>
<line x1="317.8" y1="12.8" x2="322.8" y2="17.8" stroke="#b8901c" stroke-width="2.6" stroke-linecap="round"/><line x1="318.0" y1="13" x2="322.59999999999997" y2="17.6" stroke="#f0d050" stroke-width="1.1" stroke-linecap="round"/>
<circle cx="314.2" cy="9.1" r="5.2" fill="url(#lens)" stroke="#3a78c8" stroke-width="1.2"/>
<rect x="311.4" y="8.4" width="5.6" height="1.5" fill="#2a60b8"/>
<rect x="313.45" y="6.3" width="1.5" height="5.6" fill="#2a60b8"/>
<line x1="345.70000000000005" y1="12.8" x2="350.70000000000005" y2="17.8" stroke="#b8901c" stroke-width="2.6" stroke-linecap="round"/><line x1="345.90000000000003" y1="13" x2="350.5" y2="17.6" stroke="#f0d050" stroke-width="1.1" stroke-linecap="round"/>
<circle cx="342.1" cy="9.1" r="5.2" fill="url(#lens)" stroke="#3a78c8" stroke-width="1.2"/>
<rect x="339.3" y="8.4" width="5.6" height="1.5" fill="#2a60b8"/>
<rect x="364" y="3.2" width="7.7" height="7.7" fill="#3a9e24"/><rect x="364" y="3.2" width="7.7" height="2.2" fill="#6cc050"/><rect x="365.1" y="6.2" width="5.5" height="3.6" fill="#fff" opacity=".9"/><rect x="366" y="7.6000000000000005" width="3.7" height="1" fill="#3a9e24" opacity=".8"/><rect x="364.8" y="3.9000000000000004" width="1" height="1" fill="#fff" opacity=".8"/>
<rect x="372.3" y="3.2" width="7.7" height="7.7" fill="#1c48c4"/><rect x="372.3" y="3.2" width="7.7" height="2.2" fill="#4a7ae6"/><rect x="373.40000000000003" y="6.2" width="5.5" height="3.6" fill="#fff" opacity=".9"/><rect x="374.3" y="7.6000000000000005" width="3.7" height="1" fill="#1c48c4" opacity=".8"/><rect x="373.1" y="3.9000000000000004" width="1" height="1" fill="#fff" opacity=".8"/>
<rect x="364" y="11.4" width="7.7" height="7.7" fill="#1c48c4"/><rect x="364" y="11.4" width="7.7" height="2.2" fill="#4a7ae6"/><rect x="365.1" y="14.4" width="5.5" height="3.6" fill="#fff" opacity=".9"/><rect x="366" y="15.8" width="3.7" height="1" fill="#1c48c4" opacity=".8"/><rect x="364.8" y="12.1" width="1" height="1" fill="#fff" opacity=".8"/>
<rect x="372.3" y="11.4" width="7.7" height="7.7" fill="#3a9e24"/><rect x="372.3" y="11.4" width="7.7" height="2.2" fill="#6cc050"/><rect x="373.40000000000003" y="14.4" width="5.5" height="3.6" fill="#fff" opacity=".9"/><rect x="374.3" y="15.8" width="3.7" height="1" fill="#3a9e24" opacity=".8"/><rect x="373.1" y="12.1" width="1" height="1" fill="#fff" opacity=".8"/>
<rect x="389" y="0" width="1" height="21" fill="#8c8c8c" shape-rendering="crispEdges"/><rect x="390" y="0" width="1" height="21" fill="#fff" shape-rendering="crispEdges"/>
<rect x="394" y="0" width="24" height="21" fill="url(#chk)" shape-rendering="crispEdges"/>
<rect x="393" y="0" width="1" height="21" fill="#8c8c8c" shape-rendering="crispEdges"/>
<rect x="393" y="21" width="26" height="1" fill="#fff" shape-rendering="crispEdges"/><rect x="418" y="0" width="1" height="22" fill="#fff" shape-rendering="crispEdges"/>
<g fill="#585858" shape-rendering="crispEdges"><rect x="402" y="5" width="1" height="14"/><rect x="400" y="16" width="14" height="1"/><rect x="401" y="6" width="3" height="1"/><rect x="412" y="15" width="1" height="3"/></g><g fill="#585858" opacity=".45" shape-rendering="crispEdges"><rect x="401" y="7" width="3" height="1"/><rect x="411" y="15" width="1" height="3"/></g>
<polygon points="407,8 410.6,10.8 407,13.6" fill="#58d858" stroke="#16a016" stroke-width=".9"/>
<rect x="423" y="0" width="24" height="21" fill="url(#chk)" shape-rendering="crispEdges"/>
<rect x="422" y="0" width="1" height="21" fill="#8c8c8c" shape-rendering="crispEdges"/>
<rect x="422" y="21" width="26" height="1" fill="#fff" shape-rendering="crispEdges"/><rect x="447" y="0" width="1" height="22" fill="#fff" shape-rendering="crispEdges"/>
<g fill="#585858" shape-rendering="crispEdges"><rect x="430" y="5" width="1" height="14"/><rect x="428" y="16" width="14" height="1"/><rect x="429" y="6" width="3" height="1"/><rect x="440" y="15" width="1" height="3"/></g><g fill="#585858" opacity=".45" shape-rendering="crispEdges"><rect x="429" y="7" width="3" height="1"/><rect x="439" y="15" width="1" height="3"/></g>
<line x1="436.5" y1="5" x2="436.5" y2="14.8" stroke="#2060c0" stroke-width="1.1"/><path d="M441.5,10.8 H438 M439.8,8.8 L437.6,10.8 L439.8,12.8" stroke="#e04810" stroke-width="1.1" fill="none"/>
<rect x="451" y="0" width="1" height="21" fill="#8c8c8c" shape-rendering="crispEdges"/><rect x="452" y="0" width="1" height="21" fill="#fff" shape-rendering="crispEdges"/>
<path d="M461.5,3.8 H467.3 L470.5,7 V15.8 H461.5 Z" fill="#fafafa" stroke="#8a8a8a" stroke-width="1"/><path d="M467.3,3.8 V7 H470.5" fill="none" stroke="#8a8a8a" stroke-width=".8"/><text x="462.8" y="12.6" font-size="8" fill="#444" font-style="italic" font-family="Liberation Serif">f</text>
<path d="M469.4,10 h3.8 v3.2 h3.2 v3.6 h-3.2 v3.2 h-3.8 v-3.2 h-3.2 v-3.6 h3.2 z" fill="#34d834" stroke="#0c8c0c" stroke-width=".9"/>
<polygon points="483.3,10 488.3,10 485.8,12.8" fill="#000"/>
<circle cx="507" cy="10.8" r="6.8" fill="url(#clk)" stroke="url(#ring)" stroke-width="2.4"/><path d="M506.6,7 V11.4 H509.6" stroke="#444" stroke-width="1" fill="none"/><g fill="#6a7a90"><rect x="506.5" y="5.6" width="1" height="1"/><rect x="506.5" y="15" width="1" height="1"/><rect x="501.8" y="10.3" width="1" height="1"/><rect x="511.2" y="10.3" width="1" height="1"/></g>
<polygon points="522,10 527,10 524.5,12.8" fill="#000"/>
<rect x="538.8" y="4.6" width="14.6" height="12.4" fill="#fbfbfb" stroke="#3c78c8" stroke-width="1"/><rect x="538.8" y="4.6" width="14.6" height="2" fill="#3c78c8"/><line x1="539" y1="11.5" x2="553" y2="11.5" stroke="#3c78c8" stroke-width="1"/>
<path d="M540.5,10 L543.5,8.8 L546,9.4 L549,8 L552,8.6" stroke="#a02818" stroke-width="1.1" fill="none"/><path d="M540.5,15 L543.5,13.6 L546,15 L549,13 L552,15" stroke="#20a020" stroke-width="1.1" fill="none"/>
<polygon points="561.3,10 566.3,10 563.8,12.8" fill="#000"/>
<rect x="572" y="0" width="1" height="23" fill="#8c8c8c" shape-rendering="crispEdges"/><rect x="573" y="0" width="1" height="23" fill="#fff" shape-rendering="crispEdges"/>
<rect x="576" y="1" width="3" height="1" fill="#a0a0a0" shape-rendering="crispEdges"/>
<rect x="576" y="3" width="3" height="1" fill="#a0a0a0" shape-rendering="crispEdges"/>
<rect x="576" y="5" width="3" height="1" fill="#a0a0a0" shape-rendering="crispEdges"/>
<rect x="576" y="7" width="3" height="1" fill="#a0a0a0" shape-rendering="crispEdges"/>
<rect x="576" y="9" width="3" height="1" fill="#a0a0a0" shape-rendering="crispEdges"/>
<rect x="576" y="11" width="3" height="1" fill="#a0a0a0" shape-rendering="crispEdges"/>
<rect x="576" y="13" width="3" height="1" fill="#a0a0a0" shape-rendering="crispEdges"/>
<rect x="576" y="15" width="3" height="1" fill="#a0a0a0" shape-rendering="crispEdges"/>
<rect x="576" y="17" width="3" height="1" fill="#a0a0a0" shape-rendering="crispEdges"/>
<rect x="576" y="19" width="3" height="1" fill="#a0a0a0" shape-rendering="crispEdges"/>
<rect x="583" y="0" width="24" height="21" fill="url(#chk)" shape-rendering="crispEdges"/>
<rect x="582" y="0" width="1" height="21" fill="#8c8c8c" shape-rendering="crispEdges"/>
<rect x="582" y="21" width="26" height="1" fill="#fff" shape-rendering="crispEdges"/><rect x="607" y="0" width="1" height="22" fill="#fff" shape-rendering="crispEdges"/>
<polygon points="590.2,4.2 590.2,15.2 592.8,12.8 595,17.6 596.8,16.8 594.6,12.2 598,12" fill="#404040"/>
<path d="M622.5,4 V9.5 M622.5,13 V18.6 M615,11.5 H620.8 M624.4,11.5 H630" stroke="#404040" stroke-width="1.1" fill="none"/><rect x="622" y="11" width="1" height="1" fill="#404040"/>
<rect x="639" y="0" width="1" height="21" fill="#8c8c8c" shape-rendering="crispEdges"/><rect x="640" y="0" width="1" height="21" fill="#fff" shape-rendering="crispEdges"/>
<line x1="656.5" y1="5" x2="656.5" y2="18" stroke="#404040" stroke-width="1.1"/>
<line x1="679" y1="11.5" x2="691" y2="11.5" stroke="#404040" stroke-width="1.1"/>
<line x1="707" y1="17.8" x2="719" y2="5.8" stroke="#505050" stroke-width="1.1"/>
<g stroke="#505050" stroke-width="1" fill="none"><line x1="733" y1="12.6" x2="745" y2="4.6" stroke-width="1.3"/><line x1="735" y1="17.2" x2="747" y2="9.2" stroke-width="1.3"/><line x1="735.6" y1="9" x2="737" y2="17.5"/><line x1="738.6" y1="7" x2="740" y2="15.5"/><line x1="741.6" y1="5" x2="743" y2="13.5"/><line x1="744.6" y1="3" x2="746" y2="11.4"/></g>
<text x="743.6" y="19.8" font-size="6.8" font-weight="bold" fill="#404040">E</text>
<rect x="762" y="4" width="1" height="1" fill="#404040" shape-rendering="crispEdges"/>
<rect x="764" y="4" width="1" height="1" fill="#404040" shape-rendering="crispEdges"/>
<rect x="766" y="4" width="1" height="1" fill="#404040" shape-rendering="crispEdges"/>
<rect x="768" y="4" width="1" height="1" fill="#404040" shape-rendering="crispEdges"/>
<rect x="770" y="4" width="1" height="1" fill="#404040" shape-rendering="crispEdges"/>
<rect x="772" y="4" width="1" height="1" fill="#404040" shape-rendering="crispEdges"/>
<rect x="774" y="4" width="1" height="1" fill="#404040" shape-rendering="crispEdges"/>
<rect x="762" y="7" width="1" height="1" fill="#404040" shape-rendering="crispEdges"/>
<rect x="764" y="7" width="1" height="1" fill="#404040" shape-rendering="crispEdges"/>
<rect x="766" y="7" width="1" height="1" fill="#404040" shape-rendering="crispEdges"/>
<rect x="768" y="7" width="1" height="1" fill="#404040" shape-rendering="crispEdges"/>
<rect x="770" y="7" width="1" height="1" fill="#404040" shape-rendering="crispEdges"/>
<rect x="772" y="7" width="1" height="1" fill="#404040" shape-rendering="crispEdges"/>
<rect x="774" y="7" width="1" height="1" fill="#404040" shape-rendering="crispEdges"/>
<rect x="762" y="11" width="1" height="1" fill="#404040" shape-rendering="crispEdges"/>
<rect x="764" y="11" width="1" height="1" fill="#404040" shape-rendering="crispEdges"/>
<rect x="766" y="11" width="1" height="1" fill="#404040" shape-rendering="crispEdges"/>
<rect x="768" y="11" width="1" height="1" fill="#404040" shape-rendering="crispEdges"/>
<rect x="770" y="11" width="1" height="1" fill="#404040" shape-rendering="crispEdges"/>
<rect x="772" y="11" width="1" height="1" fill="#404040" shape-rendering="crispEdges"/>
<rect x="774" y="11" width="1" height="1" fill="#404040" shape-rendering="crispEdges"/>
<rect x="762" y="15" width="1" height="1" fill="#404040" shape-rendering="crispEdges"/>
<rect x="764" y="15" width="1" height="1" fill="#404040" shape-rendering="crispEdges"/>
<rect x="766" y="15" width="1" height="1" fill="#404040" shape-rendering="crispEdges"/>
<rect x="768" y="15" width="1" height="1" fill="#404040" shape-rendering="crispEdges"/>
<text x="771.4" y="19.8" font-size="6.8" font-weight="bold" fill="#404040">F</text>
<text x="792.4" y="16" font-size="11.8" fill="#585858" stroke="#585858" stroke-width=".45">A</text>
<rect x="819" y="5" width="1" height="1" fill="#505050" shape-rendering="crispEdges"/><rect x="819" y="17" width="1" height="1" fill="#505050" shape-rendering="crispEdges"/>
<rect x="821" y="5" width="1" height="1" fill="#505050" shape-rendering="crispEdges"/><rect x="821" y="17" width="1" height="1" fill="#505050" shape-rendering="crispEdges"/>
<rect x="823" y="5" width="1" height="1" fill="#505050" shape-rendering="crispEdges"/><rect x="823" y="17" width="1" height="1" fill="#505050" shape-rendering="crispEdges"/>
<rect x="825" y="5" width="1" height="1" fill="#505050" shape-rendering="crispEdges"/><rect x="825" y="17" width="1" height="1" fill="#505050" shape-rendering="crispEdges"/>
<rect x="827" y="5" width="1" height="1" fill="#505050" shape-rendering="crispEdges"/><rect x="827" y="17" width="1" height="1" fill="#505050" shape-rendering="crispEdges"/>
<rect x="829" y="5" width="1" height="1" fill="#505050" shape-rendering="crispEdges"/><rect x="829" y="17" width="1" height="1" fill="#505050" shape-rendering="crispEdges"/>
<rect x="831" y="5" width="1" height="1" fill="#505050" shape-rendering="crispEdges"/><rect x="831" y="17" width="1" height="1" fill="#505050" shape-rendering="crispEdges"/>
<rect x="819" y="5" width="1" height="1" fill="#505050" shape-rendering="crispEdges"/><rect x="831" y="5" width="1" height="1" fill="#505050" shape-rendering="crispEdges"/>
<rect x="819" y="7" width="1" height="1" fill="#505050" shape-rendering="crispEdges"/><rect x="831" y="7" width="1" height="1" fill="#505050" shape-rendering="crispEdges"/>
<rect x="819" y="9" width="1" height="1" fill="#505050" shape-rendering="crispEdges"/><rect x="831" y="9" width="1" height="1" fill="#505050" shape-rendering="crispEdges"/>
<rect x="819" y="11" width="1" height="1" fill="#505050" shape-rendering="crispEdges"/><rect x="831" y="11" width="1" height="1" fill="#505050" shape-rendering="crispEdges"/>
<rect x="819" y="13" width="1" height="1" fill="#505050" shape-rendering="crispEdges"/><rect x="831" y="13" width="1" height="1" fill="#505050" shape-rendering="crispEdges"/>
<rect x="819" y="15" width="1" height="1" fill="#505050" shape-rendering="crispEdges"/><rect x="831" y="15" width="1" height="1" fill="#505050" shape-rendering="crispEdges"/>
<rect x="819" y="17" width="1" height="1" fill="#505050" shape-rendering="crispEdges"/><rect x="831" y="17" width="1" height="1" fill="#505050" shape-rendering="crispEdges"/>
<rect x="820.6" y="7.2" width="9.6" height="1.7" fill="#606060"/><rect x="824.5" y="7.2" width="1.9" height="8.8" fill="#606060"/>
<polygon points="849.5,5 852.8,8.4 849.5,11 846.2,8.4" fill="#404040"/><polygon points="857,17.8 860.2,14.4 857,11.8 853.8,14.4" fill="#404040"/><path d="M848.2,12.4 L851.4,15.4 L856.2,9" stroke="#404040" stroke-width="1.2" fill="none"/>
<polygon points="867,10 872,10 869.5,12.8" fill="#000"/>
<rect x="878" y="0" width="1" height="23" fill="#8c8c8c" shape-rendering="crispEdges"/><rect x="879" y="0" width="1" height="23" fill="#fff" shape-rendering="crispEdges"/>
<rect x="882" y="1" width="3" height="1" fill="#a0a0a0" shape-rendering="crispEdges"/>
<rect x="882" y="3" width="3" height="1" fill="#a0a0a0" shape-rendering="crispEdges"/>
<rect x="882" y="5" width="3" height="1" fill="#a0a0a0" shape-rendering="crispEdges"/>
<rect x="882" y="7" width="3" height="1" fill="#a0a0a0" shape-rendering="crispEdges"/>
<rect x="882" y="9" width="3" height="1" fill="#a0a0a0" shape-rendering="crispEdges"/>
<rect x="882" y="11" width="3" height="1" fill="#a0a0a0" shape-rendering="crispEdges"/>
<rect x="882" y="13" width="3" height="1" fill="#a0a0a0" shape-rendering="crispEdges"/>
<rect x="882" y="15" width="3" height="1" fill="#a0a0a0" shape-rendering="crispEdges"/>
<rect x="882" y="17" width="3" height="1" fill="#a0a0a0" shape-rendering="crispEdges"/>
<rect x="882" y="19" width="3" height="1" fill="#a0a0a0" shape-rendering="crispEdges"/>
<rect x="1029" y="0" width="24" height="21" fill="url(#chk)" shape-rendering="crispEdges"/>
<rect x="1028" y="0" width="1" height="21" fill="#8c8c8c" shape-rendering="crispEdges"/>
<rect x="1028" y="21" width="26" height="1" fill="#fff" shape-rendering="crispEdges"/><rect x="1053" y="0" width="1" height="22" fill="#fff" shape-rendering="crispEdges"/>
<text x="899.8" y="15" font-size="9.45" fill="#404040" text-anchor="middle">M1</text>
<text x="927.9" y="15" font-size="9.45" fill="#404040" text-anchor="middle">M5</text>
<text x="956.2" y="15" font-size="9.45" fill="#404040" text-anchor="middle">M15</text>
<text x="984.3" y="15" font-size="9.45" fill="#404040" text-anchor="middle">M30</text>
<text x="1012.2" y="15" font-size="9.45" fill="#404040" text-anchor="middle">H1</text>
<text x="1040" y="15" font-size="9.45" fill="#404040" text-anchor="middle">H4</text>
<text x="1068.3" y="15" font-size="9.45" fill="#404040" text-anchor="middle">D1</text>
<text x="1097" y="15" font-size="9.45" fill="#404040" text-anchor="middle">W1</text>
<text x="1124" y="15" font-size="9.45" fill="#404040" text-anchor="middle">MN</text>
<rect x="1139" y="0" width="1" height="23" fill="#8c8c8c" shape-rendering="crispEdges"/><rect x="1140" y="0" width="1" height="23" fill="#fff" shape-rendering="crispEdges"/>
<line x1="1606.5" y1="11.2" x2="1602.3" y2="15.6" stroke="#2a5ad8" stroke-width="2.4" stroke-linecap="round"/><circle cx="1609.8" cy="8.2" r="3.7" fill="#f6f8ff" stroke="#3a6ae0" stroke-width="1.2"/>
<path d="M1627,13 a5,4.2 0 1 1 4,4.4 l-1.6,2 l-.4,-2.4 a4.6,4 0 0 1 -2,-4 z" fill="#e4e6ea" stroke="#b0b4ba" stroke-width=".8"/>
<circle cx="1640.6" cy="8.4" r="8.2" fill="url(#redb)"/><text x="1640.4" y="13.2" font-size="12.5" fill="#fff" text-anchor="middle">1</text>
</g>
</svg>
</body></html>
